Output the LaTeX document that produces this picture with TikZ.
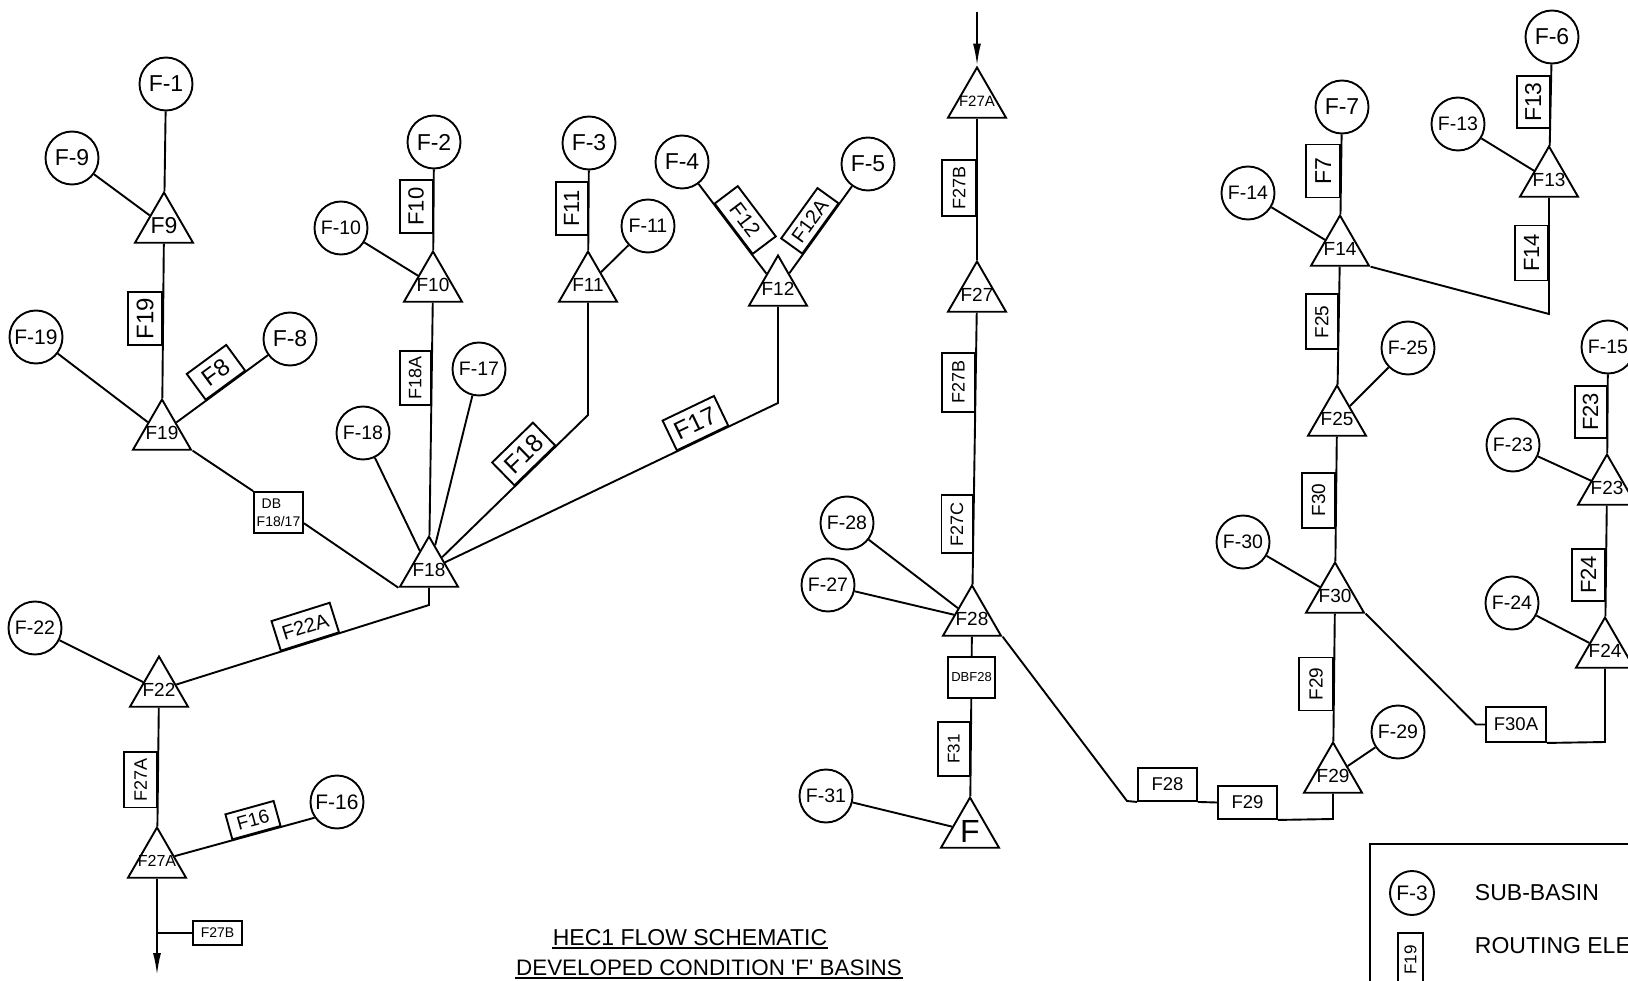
\documentclass[tikz,border=0pt]{standalone}
\usepackage{fontspec}
\setmainfont{Liberation Sans}
\usetikzlibrary{shapes.geometric,calc,arrows.meta}
\newcommand{\fsz}[1]{\fontsize{#1}{#1}\selectfont}
\newcommand{\tl}[1]{\makebox[0pt]{#1}}
\begin{document}
\begin{tikzpicture}[x=1pt,y=-1pt,line width=1.9pt,
  basin/.style={circle,draw,minimum size=53pt,inner sep=0pt,font=\fsz{19.5}},
  basinone/.style={basin,font=\fsz{23}},
  tri/.style={regular polygon,regular polygon sides=3,draw,minimum size=67pt,inner sep=0pt,font=\fsz{19}},
  rbox/.style={draw,fill=white,inner sep=0pt,anchor=south},
  vbox/.style={rbox,rotate=90},
  hbox/.style={draw,fill=white,inner sep=0pt},
  arr/.style={-{Latex[length=22pt,width=8pt]}}]
\useasboundingbox (0,0) rectangle (1628,981);
% sub-basins
\node[basinone] (C1) at (166,84) {F-1};
\node[basinone] (C9) at (72,158) {F-9};
\node[basin,font=\fsz{21}] (C19) at (36,337) {F-19};
\node[basinone] (C8) at (290,339) {F-8};
\node[basinone] (C2) at (434,142) {F-2};
\node[basin] (C10) at (341,228) {F-10};
\node[basinone] (C3) at (589,143) {F-3};
\node[basin] (C11) at (648,226) {F-11};
\node[basinone] (C4) at (682,162) {F-4};
\node[basinone] (C5) at (868,164) {F-5};
\node[basin] (C18) at (363,433) {F-18};
\node[basin] (C17) at (479,369) {F-17};
\node[basin] (C22) at (35,628) {F-22};
\node[basin,font=\fsz{21}] (C16) at (337,802) {F-16};
\node[basin] (C28) at (847,523) {F-28};
\node[basin] (C27) at (828,585) {F-27};
\node[basin] (C31) at (826,796) {F-31};
\node[basinone] (C6) at (1552,37) {F-6};
\node[basin] (C13) at (1458,124) {F-13};
\node[basinone] (C7) at (1342,107) {F-7};
\node[basin] (C14) at (1248,193) {F-14};
\node[basin] (C25) at (1408,348) {F-25};
\node[basin] (C15) at (1608,347) {F-15};
\node[basin] (C23) at (1513,445) {F-23};
\node[basin] (C30) at (1243,542) {F-30};
\node[basin] (C24) at (1512,603) {F-24};
\node[basin] (C29) at (1398,732) {F-29};
% combining points
\node[tri,font=\fsz{23}] (T9) at (164,226) {\tl{F9}};
\node[tri] (T19) at (162,433) {\tl{F19}};
\node[tri] (T10) at (433,285) {\tl{F10}};
\node[tri] (T11) at (588,285) {\tl{F11}};
\node[tri] (T12) at (778,289) {\tl{F12}};
\node[tri] (T18) at (429,570) {\tl{F18}};
\node[tri] (T22) at (159,690) {\tl{F22}};
\node[tri,font=\fsz{16}] (T27Ab) at (157,861) {\tl{F27A}};
\node[tri,font=\fsz{15}] (T27At) at (977,101) {\tl{F27A}};
\node[tri] (T27) at (977,295) {\tl{F27}};
\node[tri] (T28) at (972,619) {\tl{F28}};
\node[tri,font=\fsz{32}] (TF) at (970,831) {\tl{F}};
\node[tri] (T13) at (1549,180) {\tl{F13}};
\node[tri] (T14) at (1340,249) {\tl{F14}};
\node[tri] (T25) at (1337,419) {\tl{F25}};
\node[tri] (T30) at (1335,596) {\tl{F30}};
\node[tri] (T29) at (1333,776) {\tl{F29}};
\node[tri] (T23) at (1607,488) {\tl{F23}};
\node[tri] (T24) at (1605,651) {\tl{F24}};
% bends
\coordinate (J11) at (588,415);
\coordinate (J12) at (778,403);
\coordinate (J18) at (429,605);
\coordinate (OUT) at (157,975);
\coordinate (J27) at (157,933);
\coordinate (IN) at (977,12);
\coordinate (J28) at (1127,801);
\coordinate (J29) at (1333,819);
\coordinate (J30) at (1476,724.5);
\coordinate (J24) at (1605,742);
\coordinate (J14) at (1549,314);
% boxes that are connector ends
\node[hbox,minimum width=49pt,minimum height=41pt,align=left,font=\fontsize{14}{18}\selectfont] (DB) at (278.5,512.5) {\hspace*{5pt}DB\\F18/17};
\node[hbox,minimum width=47pt,minimum height=41pt,font=\fsz{13}] (DBF) at (971.5,677.5) {DBF28};
\node[hbox,minimum width=49pt,minimum height=24pt,font=\fsz{14}] (B27Bs) at (217.5,933) {F27B};
\node[hbox,minimum width=59pt,minimum height=33pt,font=\fsz{18.5}] (B28) at (1167.5,784.5) {F28};
\node[hbox,minimum width=59pt,minimum height=33pt,font=\fsz{18.5}] (B29h) at (1247.5,802.5) {F29};
\node[hbox,minimum width=60pt,minimum height=35pt,font=\fsz{18.5}] (B30A) at (1516,724.5) {F30A};
% connectors
\draw (C1) -- (T9);
\draw (C9) -- (T9);
\draw (T9) -- (T19);
\draw (C19) -- (T19);
\draw (T19) -- (C8);
\draw (T19.corner 3) -- (DB.north west);
\draw ($(DB.east)!0.5!(DB.south east)$) -- (T18.corner 2);
\draw (C2) -- (T10);
\draw (C10) -- (T10);
\draw (T10) -- (T18);
\draw (C3) -- (T11);
\draw (C11) -- (T11);
\draw (T11) -- (J11) -- (T18);
\draw (C4) -- (T12);
\draw (C5) -- (T12);
\draw (T12) -- (J12) -- (T18);
\draw (C18) -- (T18);
\draw (C17) -- (T18);
\draw (T18) -- (J18) -- (T22);
\draw (C22) -- (T22);
\draw (T22) -- (T27Ab);
\draw (T27Ab) -- (C16.215);
\draw[arr] (T27Ab) -- (OUT);
\draw (J27) -- (B27Bs.west);
\draw[arr] (IN) -- (T27At);
\draw (T27At) -- (T27);
\draw (T27) -- (T28);
\draw (C28) -- (T28);
\draw (C27) -- (T28);
\draw (T28) -- (DBF) -- (TF);
\draw (C31) -- (TF);
\draw (T28.corner 3) -- (J28) -- (B28.south west);
\draw (B28.south east) -- (B29h.west);
\draw (B29h.south east) -- (J29) -- (T29);
\draw (T29) -- (C29);
\draw (T30) -- (T29);
\draw (C30) -- (T30);
\draw (T30.corner 3) -- (J30) -- (B30A.west);
\draw (B30A.south east) -- (J24) -- (T24);
\draw (C24) -- (T24);
\draw (T23) -- (T24);
\draw (C23) -- (T23);
\draw (C15) -- (T23);
\draw (T25) -- (T30);
\draw (C25) -- (T25);
\draw (T14) -- (T25);
\draw (C14) -- (T14);
\draw (C7) -- (T14);
\draw (T14.corner 3) -- (J14) -- (T13);
\draw (C13) -- (T13);
\draw (C6) -- (T13);
% routing elements
\node[vbox,minimum width=53pt,minimum height=34pt,font=\fsz{24}] (R19) at ($(T9)!0.447!(T19)$) {F19};
\node[vbox,minimum width=53pt,minimum height=33pt,font=\fsz{22}] (R10) at ($(C2)!0.451!(T10)$) {F10};
\node[vbox,minimum width=53pt,minimum height=32pt,font=\fsz{22}] (R11) at ($(C3)!0.461!(T11)$) {F11};
\node[vbox,minimum width=54pt,minimum height=31pt,font=\fsz{18}] (R18A) at ($(T10)!0.326!(T18)$) {F18A};
\node[vbox,minimum width=55pt,minimum height=33pt,font=\fsz{18}] (R27A) at ($(T22)!0.526!(T27Ab)$) {F27A};
\node[vbox,minimum width=56pt,minimum height=34pt,font=\fsz{18}] (R27B) at ($(T27At)!0.448!(T27)$) {F27B};
\node[vbox,minimum width=59pt,minimum height=33pt,font=\fsz{18}] (R27B2) at ($(T27)!0.269!(T28)$) {F27B};
\node[vbox,minimum width=58pt,minimum height=31pt,font=\fsz{18}] (R27C) at ($(T27)!0.707!(T28)$) {F27C};
\node[vbox,minimum width=54pt,minimum height=32pt,font=\fsz{17}] (R31) at ($(DBF)!0.466!(TF)$) {F31};
\node[vbox,minimum width=53pt,minimum height=34pt,font=\fsz{23}] (R7) at ($(C7)!0.451!(T14)$) {F7};
\node[vbox,minimum width=52pt,minimum height=33pt,font=\fsz{23}] (R13) at ($(C6)!0.455!(T13)$) {F13};
\node[vbox,minimum width=55pt,minimum height=33pt,font=\fsz{22}] (R14) at ($(T13)!0.545!(J14)$) {F14};
\node[vbox,minimum width=55pt,minimum height=32pt,font=\fsz{19}] (R25) at ($(T14)!0.429!(T25)$) {F25};
\node[vbox,minimum width=55pt,minimum height=33pt,font=\fsz{19}] (R30) at ($(T25)!0.458!(T30)$) {F30};
\node[vbox,minimum width=53pt,minimum height=34pt,font=\fsz{19}] (R29) at ($(T30)!0.489!(T29)$) {F29};
\node[vbox,minimum width=52pt,minimum height=32pt,font=\fsz{22}] (R23) at ($(C15)!0.461!(T23)$) {F23};
\node[vbox,minimum width=52pt,minimum height=33pt,font=\fsz{22}] (R24) at ($(T23)!0.534!(T24)$) {F24};
\node[rbox,rotate=36.3,minimum width=49pt,minimum height=32pt,font=\fsz{24}] (R8) at ($(T19)!0.5!(C8)$) {F8};
\node[rbox,rotate=-52.9,minimum width=63pt,minimum height=29pt,font=\fsz{21}] (R12) at ($(C4)!0.53!(T12)$) {F12};
\node[rbox,rotate=54.2,minimum width=62pt,minimum height=26pt,font=\fsz{20}] (R12A) at ($(C5)!0.52!(T12)$) {F12A};
\node[rbox,rotate=44.3,minimum width=57pt,minimum height=32pt,font=\fsz{25}] (R18) at ($(J11)!0.33!(T18)$) {F18};
\node[rbox,rotate=25.6,minimum width=57pt,minimum height=33pt,font=\fsz{25}] (R17) at ($(J12)!0.215!(T18)$) {F17};
\node[rbox,rotate=17.5,minimum width=61pt,minimum height=31pt,font=\fsz{20}] (R22A) at ($(J18)!0.44!(T22)$) {F22A};
\node[rbox,rotate=15.5,minimum width=50pt,minimum height=26pt,font=\fsz{19}] (R16) at ($(T27Ab)!0.633!(C16.215)$) {F16};
% title
\node[anchor=base,inner sep=0pt,font=\fsz{23}] (TT1) at (690,945) {HEC1 FLOW SCHEMATIC};
\node[anchor=base,inner sep=0pt,font=\fsz{22.4}] (TT2) at (709,975) {DEVELOPED CONDITION \textquotesingle F\textquotesingle{} BASINS};
\draw[line width=1.5pt] ([yshift=-3pt]TT1.base west) -- ([yshift=-3pt]TT1.base east);
\draw[line width=1.5pt] ([yshift=-3pt]TT2.base west) -- ([yshift=-3pt]TT2.base east);
% legend
\draw (1370,844) rectangle (1645,1000);
\node[circle,draw,minimum size=44pt,inner sep=0pt,font=\fsz{21}] (LC) at (1412,893) {F-3};
\node[anchor=west,inner sep=0pt,font=\fsz{23}] (LT1) at (1474,893) {SUB-BASIN};
\node[rbox,rotate=90,minimum width=54pt,minimum height=25pt,font=\fsz{17}] (LB) at (1424,960) {F19};
\node[anchor=west,inner sep=0pt,font=\fsz{23}] (LT2) at (1474,946) {ROUTING ELEMENT};
\end{tikzpicture}
\end{document}
